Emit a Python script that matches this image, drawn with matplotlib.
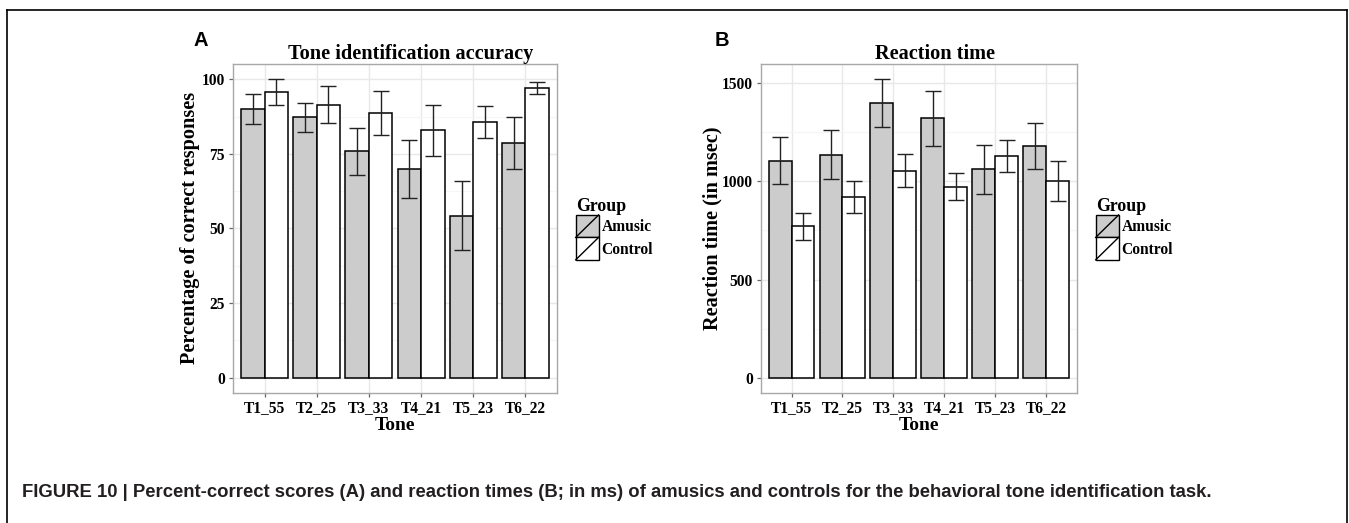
import numpy as np
import matplotlib
matplotlib.use("Agg")
import matplotlib.pyplot as plt
import matplotlib.patches as mpatches
from matplotlib.lines import Line2D
from matplotlib.legend_handler import HandlerBase

# datos
tones = ['T1_55', 'T2_25', 'T3_33', 'T4_21', 'T5_23', 'T6_22']
groups = ['Amusic', 'Control']

acc_amusic = [90.1, 87.2, 75.8, 70.0, 54.3, 78.6]
acc_amusic_err = [5.0, 5.0, 7.9, 9.8, 11.6, 8.8]
acc_control = [95.8, 91.4, 88.6, 82.9, 85.7, 97.2]
acc_control_err = [4.3, 6.2, 7.3, 8.5, 5.3, 2.0]

rt_amusic = [1105, 1136, 1398, 1320, 1061, 1180]
rt_amusic_err = [120, 123, 123, 142, 125, 115]
rt_control = [771, 919, 1054, 973, 1127, 1002]
rt_control_err = [70, 80, 85, 70, 82, 103]

acc_ticks = [0, 25, 50, 75, 100]
rt_ticks = [0, 500, 1000, 1500]

SERIF = 'Liberation Serif'
SANS = 'Liberation Sans'
W, H = 1349, 523
GRIS = '#cccccc'


class SlashHandler(HandlerBase):
    # clave de leyenda estilo ggplot: caja con diagonal
    def create_artists(self, legend, orig_handle, xdescent, ydescent,
                       width, height, fontsize, trans):
        r = mpatches.Rectangle((-xdescent, -ydescent), width, height,
                               facecolor=orig_handle.get_facecolor(),
                               edgecolor='black', lw=1.0, transform=trans)
        l = Line2D([-xdescent, -xdescent + width], [-ydescent, -ydescent + height],
                   color='black', lw=1.0, transform=trans)
        return [r, l]


def px_axes(left, right, top=64, bottom=392.7):
    return [left / W, 1 - bottom / H, (right - left) / W, (bottom - top) / H]


def panel(rect, mean_a, err_a, mean_c, err_c, ticks, title, ylabel, ylab_x, leg_x):
    ax = fig.add_axes(rect)
    x = np.arange(1, len(tones) + 1)
    w = 0.45
    ax.bar(x - w / 2, mean_a, w, color=GRIS, edgecolor='black', lw=1.1, zorder=3)
    ax.bar(x + w / 2, mean_c, w, color='white', edgecolor='black', lw=1.1, zorder=3)
    ax.errorbar(x - w / 2, mean_a, yerr=err_a, fmt='none', ecolor='#222222',
                elinewidth=1.0, capsize=5.5, capthick=1.0, zorder=4)
    ax.errorbar(x + w / 2, mean_c, yerr=err_c, fmt='none', ecolor='#222222',
                elinewidth=1.0, capsize=5.5, capthick=1.0, zorder=4)

    top = max(max(np.add(mean_a, err_a)), max(np.add(mean_c, err_c)))
    ax.set_ylim(-0.05 * top, top * 1.05)
    ax.set_xlim(0.4, len(tones) + 0.6)
    ax.set_xticks(x)
    ax.set_xticklabels(tones)
    ax.set_yticks(ticks)
    minors = [(a + b) / 2 for a, b in zip(ticks[:-1], ticks[1:])]
    ax.set_yticks(minors, minor=True)

    ax.grid(True, which='major', color='#e8e8e8', lw=1.0, zorder=0)
    ax.grid(True, which='minor', axis='y', color='#f6f6f6', lw=0.8, zorder=0)
    ax.set_axisbelow(True)
    for s in ax.spines.values():
        s.set_color('#a8a8a8')
        s.set_linewidth(1.0)
    ax.tick_params(which='major', length=3.2, width=0.9, color='#666666', pad=2.8)
    ax.tick_params(axis='x', which='major', pad=2.0)
    ax.tick_params(which='minor', length=0)
    for lab in ax.get_xticklabels() + ax.get_yticklabels():
        lab.set_fontfamily(SERIF)
        lab.set_fontweight('bold')
        lab.set_fontsize(11.2)
        lab.set_color('black')

    ax.text(0.5 + 16 / (rect[2] * W), 1 + 5 / (rect[3] * H), title,
            transform=ax.transAxes, ha='center', va='baseline',
            family=SERIF, weight='bold', fontsize=14.6)
    ax.set_xlabel('Tone', family=SERIF, weight='bold', fontsize=14, labelpad=0)
    ax.xaxis.set_label_coords(0.5, -(426 - 392.7) / (rect[3] * H))
    ax.xaxis.label.set_va('center')
    ax.set_ylabel(ylabel, family=SERIF, weight='bold', fontsize=14.6)
    ax.yaxis.label.set_va('center')
    ax.yaxis.set_label_coords((ylab_x - rect[0] * W) / (rect[2] * W), 0.5)

    handles = [mpatches.Patch(facecolor=GRIS), mpatches.Patch(facecolor='white')]
    leg = ax.legend(handles, groups, title='Group', loc='upper left',
                    bbox_to_anchor=(leg_x / W, 1 - 198 / H),
                    bbox_transform=fig.transFigure, frameon=False,
                    handler_map={mpatches.Patch: SlashHandler()},
                    handlelength=1.47, handleheight=1.84, handletextpad=0.2,
                    labelspacing=0.0, borderpad=0.0, borderaxespad=0.0,
                    alignment='left',
                    prop={'family': SERIF, 'weight': 'bold', 'size': 11.2},
                    title_fontproperties={'family': SERIF, 'weight': 'bold', 'size': 12.8})
    return ax


fig = plt.figure(figsize=(W / 100, H / 100), dpi=100)

axA = panel(px_axes(233.3, 556.7), acc_amusic, acc_amusic_err, acc_control,
            acc_control_err, acc_ticks, 'Tone identification accuracy',
            'Percentage of correct responses', 190, 575.7)
axB = panel(px_axes(761, 1076.7), rt_amusic, rt_amusic_err, rt_control,
            rt_control_err, rt_ticks, 'Reaction time',
            'Reaction time (in msec)', 712, 1095.7)

# letras de panel
fig.text(193 / W, 1 - 45.7 / H, 'A', family=SANS, weight='bold', fontsize=14.5,
         ha='left', va='baseline')
fig.text(715 / W, 1 - 45.5 / H, 'B', family=SANS, weight='bold', fontsize=14.5,
         ha='left', va='baseline')

# marco de la figura (abierto abajo)
for xs, ys in [([6.7, 1347.3], [9.5, 9.5]), ([6.7, 6.7], [9.5, H]), ([1347.3, 1347.3], [9.5, H])]:
    fig.add_artist(Line2D([v / W for v in xs], [1 - v / H for v in ys],
                          color='black', lw=1.2, transform=fig.transFigure))

fig.text(21.7 / W, 1 - 492.5 / H,
         'FIGURE 10 | Percent-correct scores (A) and reaction times (B; in ms) of amusics '
         'and controls for the behavioral tone identification task.',
         family=SANS, weight='bold', fontsize=13.3, color='#231f20',
         ha='left', va='center')

plt.savefig('out.png', dpi=100)
